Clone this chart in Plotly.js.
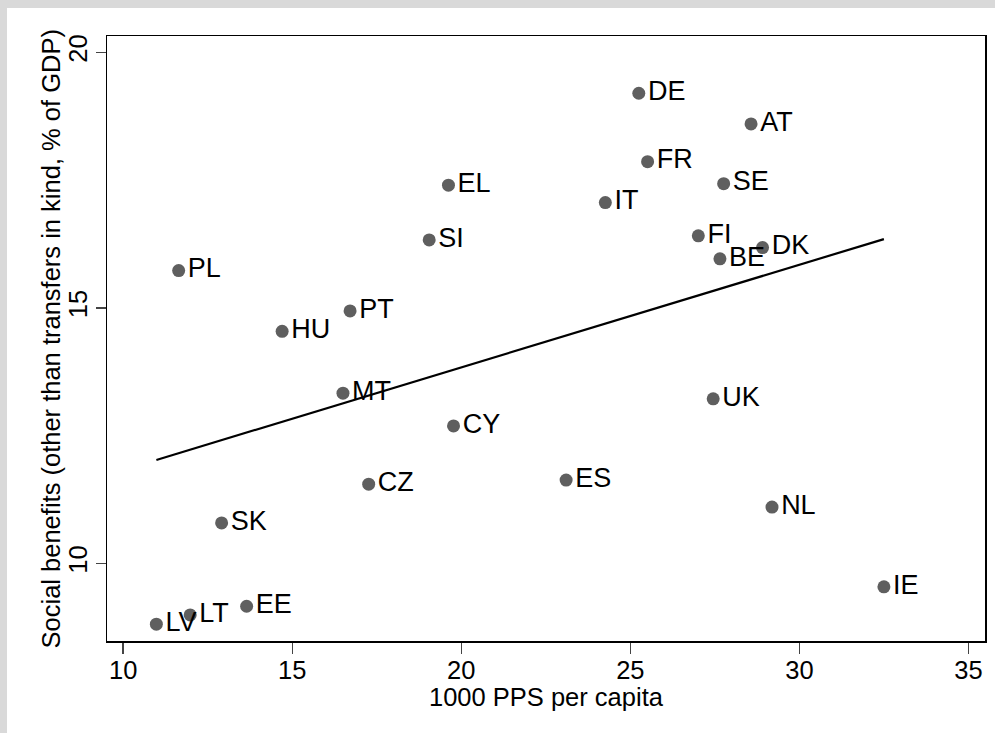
<!DOCTYPE html>
<html>
<head>
<meta charset="utf-8">
<script src="https://cdn.plot.ly/plotly-3.0.1.min.js"></script>
<style>
  html, body { margin: 0; padding: 0; background: #d9d9d9; width: 995px; height: 733px; overflow: hidden; }
  #chart { position: absolute; left: 7px; top: 8px; width: 988px; height: 725px; background: #fff; }
</style>
</head>
<body>
<div id="chart"></div>
<script>
// Country codes
const countries = ["DE","AT","FR","SE","IT","FI","BE","DK","UK","ES","NL","IE",
                   "PL","HU","PT","MT","CY","CZ","SK","EE","LT","LV","EL","SI"];
// 1000 PPS per capita
const gdpPerCapita = [25.25,28.57,25.51,27.76,24.26,27.01,27.65,28.91,27.45,23.10,29.19,32.50,
                      11.64,14.70,16.71,16.50,19.77,17.26,12.91,13.65,11.98,10.98,19.62,19.05];
// Social benefits (other than transfers in kind, % of GDP)
const socialBenefits = [19.20,18.60,17.86,17.43,17.06,16.41,15.96,16.18,13.22,11.63,11.10,9.54,
                        15.73,14.54,14.94,13.33,12.69,11.55,10.79,9.16,8.99,8.81,17.40,16.33];
const xTicks = [10,15,20,25,30,35];
const yTicks = [10,15,20];
const xTitle = "1000 PPS per capita";
const yTitle = "Social benefits (other than transfers in kind, % of GDP)";

// Linear fit (OLS) over the data range
const n = gdpPerCapita.length;
const mx = gdpPerCapita.reduce((a,b)=>a+b,0)/n;
const my = socialBenefits.reduce((a,b)=>a+b,0)/n;
let sxy = 0, sxx = 0;
for (let i = 0; i < n; i++) { sxy += (gdpPerCapita[i]-mx)*(socialBenefits[i]-my); sxx += (gdpPerCapita[i]-mx)**2; }
const slope = sxy/sxx, icpt = my - slope*mx;
const xmin = Math.min(...gdpPerCapita), xmax = Math.max(...gdpPerCapita);
const fitX = [xmin, xmax];
const fitY = fitX.map(v => icpt + slope*v);

const FONT = "Liberation Sans, Arial, Helvetica, sans-serif";
const AX = 25.5;

const traces = [
  {
    type: "scatter", mode: "markers+text",
    x: gdpPerCapita, y: socialBenefits, text: countries,
    textposition: "middle right",
    textfont: {family: FONT, size: 27, color: "#000"},
    marker: {size: 13, color: "#5f5f5f"},
    cliponaxis: false, hoverinfo: "skip"
  },
  {
    type: "scatter", mode: "lines",
    x: fitX, y: fitY,
    line: {color: "#000", width: 2.2},
    hoverinfo: "skip"
  }
];

const layout = {
  width: 988, height: 725,
  margin: {l: 100, r: 10, t: 28, b: 92},
  paper_bgcolor: "#fff", plot_bgcolor: "#fff",
  showlegend: false,
  font: {family: FONT, size: AX, color: "#000"},
  xaxis: {
    range: [9.52, 35.49], tickvals: xTicks, ticktext: xTicks.map(String),
    ticks: "outside", ticklen: 11, tickwidth: 1.5, tickcolor: "#444",
    ticklabelstandoff: -5,
    showgrid: false, zeroline: false,
    showline: true, linecolor: "#000", linewidth: 1.5, mirror: true,
    tickfont: {family: FONT, size: AX, color: "#000"}
  },
  yaxis: {
    range: [8.48, 20.32], tickvals: yTicks, ticktext: yTicks.map(String),
    ticks: "outside", ticklen: 10, tickwidth: 1.5, tickcolor: "#444",
    tickangle: -90, ticklabelstandoff: -2,
    showgrid: false, zeroline: false,
    showline: true, linecolor: "#000", linewidth: 1.5, mirror: true,
    tickfont: {family: FONT, size: AX, color: "#000"}
  },
  annotations: [
    {text: xTitle, xref: "paper", yref: "paper", x: 0.5, y: -0.0893, yshift: -2,
     xanchor: "center", yanchor: "middle", showarrow: false,
     font: {family: FONT, size: AX, color: "#000"}},
    {text: yTitle, xref: "paper", yref: "paper", x: -0.0661, xshift: 2, y: 0.5,
     xanchor: "center", yanchor: "middle", showarrow: false, textangle: -90,
     font: {family: FONT, size: AX, color: "#000"}}
  ]
};

Plotly.newPlot("chart", traces, layout, {displayModeBar: false, staticPlot: true});
</script>
</body>
</html>
